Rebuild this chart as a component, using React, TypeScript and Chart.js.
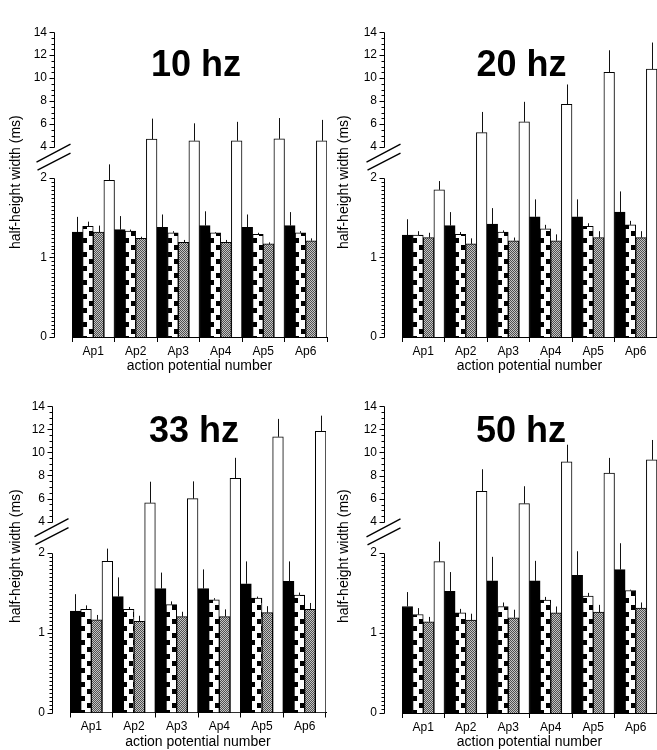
import React, { useEffect, useRef } from 'react';
import { Chart, registerables, LinearScale } from 'chart.js';

Chart.register(...registerables);

// ---------------- DATA ----------------
const categories = ['Ap1', 'Ap2', 'Ap3', 'Ap4', 'Ap5', 'Ap6'];
const yTicks = [0, 1, 2, 4, 6, 8, 10, 12, 14];
const panelTitles = ['10 hz', '20 hz', '33 hz', '50 hz'];
const xAxisTitle = 'action potential number';
const yAxisTitle = 'half-height width (ms)';

// 10 hz
const black10 = [1.32, 1.35, 1.38, 1.40, 1.38, 1.40];
const black10Err = [0.19, 0.17, 0.16, 0.18, 0.16, 0.17];
const check10 = [1.39, 1.33, 1.31, 1.31, 1.29, 1.31];
const check10Err = [0.06, 0.02, 0.02, 0.01, 0.02, 0.02];
const gray10 = [1.32, 1.24, 1.19, 1.19, 1.17, 1.21];
const gray10Err = [0.08, 0.02, 0.03, 0.03, 0.02, 0.03];
const white10 = [1.97, 4.69, 4.55, 4.55, 4.72, 4.55];
const white10Err = [0.2, 1.79, 1.52, 1.65, 1.81, 1.82];

// 20 hz
const black20 = [1.28, 1.40, 1.42, 1.51, 1.51, 1.57];
const black20Err = [0.2, 0.17, 0.2, 0.22, 0.22, 0.26];
const check20 = [1.28, 1.29, 1.32, 1.36, 1.39, 1.41];
const check20Err = [0.05, 0.03, 0.02, 0.05, 0.04, 0.05];
const gray20 = [1.25, 1.17, 1.21, 1.21, 1.25, 1.25];
const gray20Err = [0.06, 0.07, 0.04, 0.08, 0.08, 0.08];
const white20 = [1.85, 5.26, 6.2, 7.72, 10.5, 10.78];
const white20Err = [0.11, 1.8, 1.74, 1.73, 1.93, 2.32];

// 33 hz
const black33 = [1.27, 1.45, 1.55, 1.55, 1.61, 1.64];
const black33Err = [0.21, 0.24, 0.2, 0.24, 0.28, 0.25];
const check33 = [1.29, 1.29, 1.35, 1.41, 1.43, 1.47];
const check33Err = [0.05, 0.03, 0.04, 0.02, 0.02, 0.03];
const gray33 = [1.16, 1.14, 1.2, 1.2, 1.25, 1.29];
const gray33Err = [0.06, 0.07, 0.06, 0.09, 0.08, 0.08];
const white33 = [1.89, 5.63, 5.99, 7.76, 11.35, 11.82];
const white33Err = [0.16, 1.83, 1.5, 1.77, 1.55, 1.36];

// 50 hz
const black50 = [1.33, 1.52, 1.65, 1.65, 1.72, 1.79];
const black50Err = [0.18, 0.24, 0.3, 0.25, 0.3, 0.33];
const check50 = [1.23, 1.25, 1.33, 1.41, 1.46, 1.53];
const check50Err = [0.08, 0.05, 0.05, 0.04, 0.04, 0.01];
const gray50 = [1.14, 1.16, 1.19, 1.25, 1.26, 1.31];
const gray50Err = [0.06, 0.08, 0.1, 0.08, 0.09, 0.07];
const white50 = [1.89, 6.65, 5.58, 9.18, 8.22, 9.37];
const white50Err = [0.25, 1.9, 1.5, 1.49, 1.31, 1.71];

// ---------------- BROKEN AXIS SCALE ----------------
const LOW_PER_UNIT = 0.261; // fraction of axis height per unit, lower segment
const BREAK_DEC = 0.623; // fraction where upper segment (value 4) begins
const UP_LO = 4;
const UP_HI = 14;
const BREAK_VAL = BREAK_DEC / LOW_PER_UNIT;
const LOWER_MINOR_STEP = 0.05;
const UPPER_MINOR_STEP = 0.5;

function valueToDecimal(v: number) {
  if (v <= BREAK_VAL) return v * LOW_PER_UNIT;
  if (v < UP_LO) return BREAK_DEC;
  return BREAK_DEC + ((v - UP_LO) / (UP_HI - UP_LO)) * (1 - BREAK_DEC);
}
function decimalToValue(d: number) {
  if (d <= BREAK_DEC) return d / LOW_PER_UNIT;
  return UP_LO + ((d - BREAK_DEC) / (1 - BREAK_DEC)) * (UP_HI - UP_LO);
}

class BrokenScale extends (LinearScale as any) {
  buildTicks() {
    return yTicks.map((v) => ({ value: v }));
  }
  getPixelForValue(v: any) {
    if (v === null || v === undefined || isNaN(v)) return NaN;
    return (this as any).getPixelForDecimal(valueToDecimal(+v));
  }
  getValueForPixel(p: number) {
    return decimalToValue((this as any).getDecimalForPixel(p));
  }
}
(BrokenScale as any).id = 'broken';
(BrokenScale as any).defaults = (LinearScale as any).defaults;
Chart.register(BrokenScale as any);

Chart.defaults.font.family = '"Liberation Sans", Arial, Helvetica, sans-serif';
Chart.defaults.color = '#000';

// ---------------- PATTERNS ----------------
const tiles: Record<string, HTMLCanvasElement> = {};
function getTile(kind: string) {
  if (tiles[kind]) return tiles[kind];
  const c = document.createElement('canvas');
  if (kind === 'check') {
    c.width = 10;
    c.height = 14;
    const g = c.getContext('2d')!;
    g.fillStyle = '#fff';
    g.fillRect(0, 0, 10, 14);
    g.fillStyle = '#000';
    g.fillRect(0, 0, 4, 5);
    g.fillRect(6, 7, 4, 5);
  } else {
    c.width = 2;
    c.height = 2;
    const g = c.getContext('2d')!;
    g.fillStyle = '#c4c4c4';
    g.fillRect(0, 0, 2, 2);
    g.fillStyle = '#505050';
    g.fillRect(0, 0, 1, 1);
    g.fillRect(1, 1, 1, 1);
  }
  tiles[kind] = c;
  return c;
}
function patternFill(kind: string, dsIndex: number) {
  return (c: any) => {
    const chart = c.chart;
    const fallback = kind === 'check' ? '#fff' : '#8a8a8a';
    if (c.type !== 'data' || !chart.chartArea || !chart.scales.x) return fallback;
    const xs = chart.scales.x;
    const cw = (chart.chartArea.right - chart.chartArea.left) / categories.length;
    const left = xs.getPixelForValue(c.dataIndex) - cw / 2 + (dsIndex * cw) / 4;
    const pat = chart.ctx.createPattern(getTile(kind), 'repeat');
    if (!pat) return fallback;
    pat.setTransform(new DOMMatrix([1, 0, 0, 1, Math.round(left), 0]));
    return pat;
  };
}

// ---------------- PANELS ----------------
type PanelCfg = {
  title: string;
  series: number[][];
  errors: number[][];
  left: number;
  top: number;
  w: number;
  h: number;
  aL: number;
  aR: number;
  aT: number;
  aB: number;
  tdx: number;
  tdy: number;
  ytx: number;
};

const panels: PanelCfg[] = [
  {
    title: panelTitles[0],
    series: [black10, check10, gray10, white10],
    errors: [black10Err, check10Err, gray10Err, white10Err],
    left: 0, top: 0, w: 330, h: 374, aL: 72, aR: 327, aT: 15, aB: 337, tdx: 124, tdy: 33.5, ytx: 16,
  },
  {
    title: panelTitles[1],
    series: [black20, check20, gray20, white20],
    errors: [black20Err, check20Err, gray20Err, white20Err],
    left: 330, top: 0, w: 327, h: 374, aL: 72, aR: 327, aT: 15, aB: 337, tdx: 119.5, tdy: 33.5, ytx: 14,
  },
  {
    title: panelTitles[2],
    series: [black33, check33, gray33, white33],
    errors: [black33Err, check33Err, gray33Err, white33Err],
    left: 0, top: 374, w: 330, h: 376, aL: 70, aR: 326, aT: 15.3, aB: 338.5, tdx: 124, tdy: 25.5, ytx: 16,
  },
  {
    title: panelTitles[3],
    series: [black50, check50, gray50, white50],
    errors: [black50Err, check50Err, gray50Err, white50Err],
    left: 330, top: 374, w: 327, h: 376, aL: 72, aR: 327, aT: 15.3, aB: 339, tdx: 119, tdy: 26, ytx: 14,
  },
];

function Panel({ cfg }: { cfg: PanelCfg }) {
  const ref = useRef<HTMLCanvasElement>(null);
  useEffect(() => {
    const errPlugin = {
      id: 'errbars',
      afterDatasetsDraw(chart: any) {
        const ctx = chart.ctx;
        const y = chart.scales.y;
        ctx.save();
        ctx.strokeStyle = '#111';
        ctx.lineWidth = 1;
        chart.data.datasets.forEach((ds: any, di: number) => {
          const meta = chart.getDatasetMeta(di);
          meta.data.forEach((bar: any, i: number) => {
            const v = ds.data[i];
            const e = cfg.errors[di][i];
            const x = Math.round(bar.x) + 0.5;
            ctx.beginPath();
            ctx.moveTo(x, y.getPixelForValue(v));
            ctx.lineTo(x, y.getPixelForValue(v + e));
            ctx.stroke();
          });
        });
        ctx.restore();
      },
    };
    const decorPlugin = {
      id: 'decor',
      afterDraw(chart: any) {
        const ctx = chart.ctx;
        const a = chart.chartArea;
        const y = chart.scales.y;
        const p = (v: number) => Math.round(y.getPixelForValue(v)) + 0.5;
        const ax = Math.round(a.left - 18) + 0.5;
        ctx.save();
        ctx.strokeStyle = '#000';
        ctx.lineWidth = 1;
        ctx.beginPath();
        ctx.moveTo(ax, p(0));
        ctx.lineTo(ax, p(2));
        ctx.moveTo(ax, p(4));
        ctx.lineTo(ax, p(14));
        yTicks.forEach((t) => {
          ctx.moveTo(ax - 5, p(t));
          ctx.lineTo(ax, p(t));
        });
        const nLow = Math.round(2 / LOWER_MINOR_STEP);
        for (let k = 1; k < nLow; k++) {
          const v = k * LOWER_MINOR_STEP;
          if (Math.abs(v - Math.round(v)) < 1e-6) continue;
          ctx.moveTo(ax - 3, p(v));
          ctx.lineTo(ax, p(v));
        }
        const nUp = Math.round((UP_HI - UP_LO) / UPPER_MINOR_STEP);
        for (let k = 1; k < nUp; k++) {
          const v = UP_LO + k * UPPER_MINOR_STEP;
          if (Math.abs(v / 2 - Math.round(v / 2)) < 1e-6) continue;
          ctx.moveTo(ax - 3, p(v));
          ctx.lineTo(ax, p(v));
        }
        ctx.stroke();
        // break marks
        const y4 = y.getPixelForValue(4);
        ctx.lineWidth = 1.4;
        ctx.beginPath();
        ctx.moveTo(ax - 18, y4 + 15);
        ctx.lineTo(ax + 16, y4 - 3);
        ctx.moveTo(ax - 17, y4 + 23);
        ctx.lineTo(ax + 16, y4 + 6);
        ctx.stroke();
        // titles
        ctx.fillStyle = '#000';
        ctx.font = 'bold 36px "Liberation Sans", Arial, sans-serif';
        ctx.textAlign = 'center';
        ctx.textBaseline = 'middle';
        ctx.fillText(cfg.title, a.left + cfg.tdx, a.top + cfg.tdy);
        ctx.font = '14px "Liberation Sans", Arial, sans-serif';
        ctx.textBaseline = 'alphabetic';
        ctx.fillText(xAxisTitle, (a.left + a.right) / 2, a.bottom + 33);
        ctx.translate(cfg.ytx, a.top + 150);
        ctx.rotate(-Math.PI / 2);
        ctx.textBaseline = 'middle';
        ctx.fillText(yAxisTitle, 0, 0);
        ctx.restore();
      },
    };
    const kinds = ['black', 'check', 'gray', 'white'];
    const fills: any[] = ['#000', patternFill('check', 1), patternFill('gray', 2), '#fff'];
    const chart = new Chart(ref.current!, {
      type: 'bar',
      data: {
        labels: categories,
        datasets: cfg.series.map((s, i) => ({
          label: kinds[i],
          data: s,
          backgroundColor: fills[i],
          borderColor: '#000',
          borderWidth: 1,
          borderSkipped: 'start',
          barPercentage: 1,
          categoryPercentage: 1,
        })),
      },
      options: {
        responsive: false,
        animation: false,
        events: [],
        layout: { padding: { top: cfg.aT, right: cfg.w - cfg.aR, left: 0, bottom: 0 } },
        plugins: { legend: { display: false }, tooltip: { enabled: false }, title: { display: false } },
        scales: {
          x: {
            type: 'category',
            grid: { display: true, drawOnChartArea: false, drawTicks: true, tickLength: 5, offset: true, color: '#000', lineWidth: 1 },
            border: { display: true, color: '#000', width: 1 },
            ticks: { font: { size: 12 }, color: '#000', padding: 2, autoSkip: false, maxRotation: 0 },
            afterFit: (s: any) => {
              s.height = cfg.h - cfg.aB;
            },
          },
          y: {
            type: 'broken' as any,
            min: 0,
            max: 14,
            grid: { display: false, drawTicks: false },
            border: { display: false },
            ticks: { font: { size: 12 }, color: '#000', padding: 25, autoSkip: false },
            afterFit: (s: any) => {
              s.width = cfg.aL;
            },
          },
        },
      } as any,
      plugins: [errPlugin, decorPlugin],
    });
    return () => chart.destroy();
  }, []);
  return (
    <div style={{ position: 'absolute', left: cfg.left, top: cfg.top, width: cfg.w, height: cfg.h }}>
      <canvas ref={ref} width={cfg.w} height={cfg.h} style={{ width: cfg.w, height: cfg.h, display: 'block' }} />
    </div>
  );
}

export default function App() {
  return (
    <div style={{ position: 'absolute', left: 0, top: 0, width: 657, height: 750, overflow: 'hidden', background: '#fff' }}>
      {panels.map((p, i) => (
        <Panel key={i} cfg={p} />
      ))}
    </div>
  );
}
